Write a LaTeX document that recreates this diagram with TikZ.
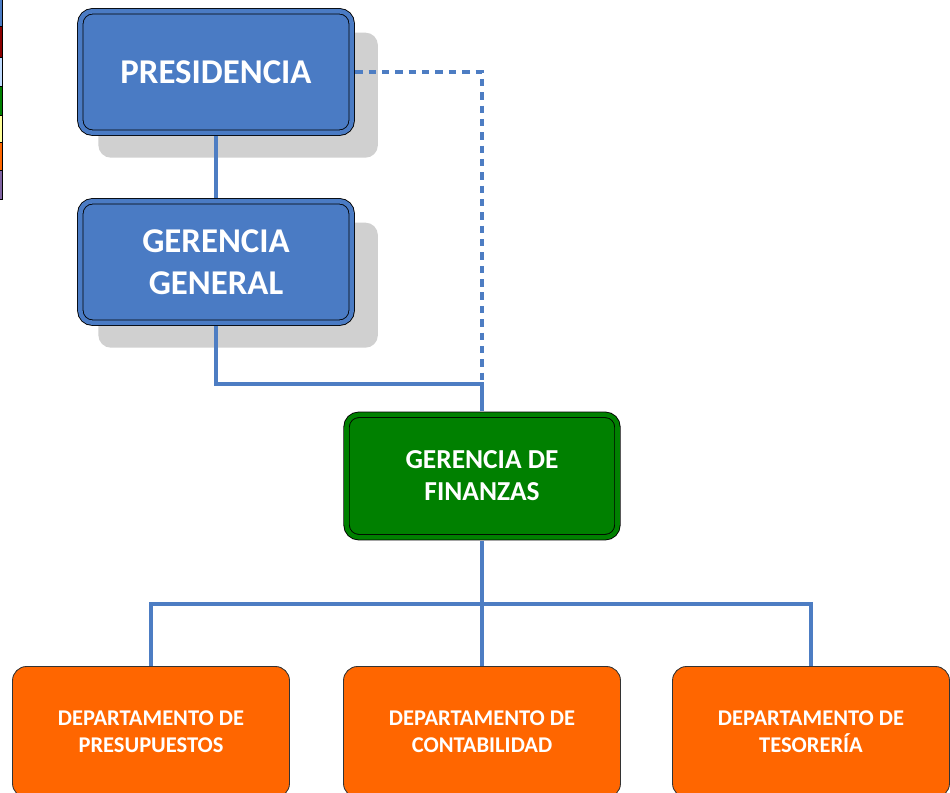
\documentclass[tikz,border=0pt]{standalone}
\usepackage{fontspec}
\setmainfont{Carlito}
\usepackage{tikz}
\usetikzlibrary{shadows,calc}
\definecolor{jefe}{HTML}{4A7BC4}
\definecolor{enlace}{HTML}{4D7DC3}
\definecolor{finanzas}{HTML}{008000}
\definecolor{depto}{HTML}{FF6600}
\definecolor{sombra}{HTML}{D0D0D0}
\definecolor{leyrojo}{HTML}{8B0000}
\definecolor{leycielo}{HTML}{C0DCFF}
\definecolor{leyamarillo}{HTML}{FFFF99}
\definecolor{leymorado}{HTML}{8064A2}

\begin{document}
\begin{tikzpicture}[x=0.02cm,y=-0.02cm,
  jefebox/.style={rectangle,rounded corners=7pt,draw=black,line width=0.5pt,
    double=jefe,double distance=2.6pt,fill=jefe,text=white,align=center,
    minimum width=5.43cm,minimum height=2.43cm,
    font=\bfseries\fontsize{19.8}{24}\selectfont,
    drop shadow={shadow scale=1.03,shadow xshift=0.43cm,shadow yshift=-0.45cm,fill=sombra,opacity=1}},
  finbox/.style={rectangle,rounded corners=7pt,draw=black,line width=0.5pt,
    double=finanzas,double distance=2.6pt,fill=finanzas,text=white,align=center,
    minimum width=5.42cm,minimum height=2.45cm,
    font=\bfseries\fontsize{15.6}{18.2}\selectfont},
  deptobox/.style={rectangle,rounded corners=8pt,draw=black!80,line width=0.5pt,
    fill=depto,text=white,align=center,
    minimum width=5.54cm,minimum height=2.62cm,
    font=\bfseries\fontsize{12.8}{15.3}\selectfont},
  enlace/.style={draw=enlace,line width=2.8pt},
  punteado/.style={draw=enlace,line width=2.2pt,dash pattern=on 4.2pt off 3.4pt}]
\useasboundingbox (0,0) rectangle (950,793);

% leyenda cortada a la izquierda
\foreach \arriba/\abajo/\col in {-2/26/jefe,26/57/leyrojo,57/86/leycielo,86/115/finanzas,115/142/leyamarillo,142/170/depto,170/199/leymorado}
  \draw[fill=\col,line width=0.5pt] (-3,\arriba) rectangle (2.5,\abajo);

\node[jefebox] (pres) at (216,72) {PRESIDENCIA};
\node[jefebox] (gg) at (216,262) {GERENCIA\\GENERAL};
\node[finbox] (fin) at (482,476) {GERENCIA DE\\FINANZAS};

\node[deptobox] (presup) at (151,732) {DEPARTAMENTO DE\\PRESUPUESTOS};
\node[deptobox] (conta) at (482,732) {DEPARTAMENTO DE\\CONTABILIDAD};
\node[deptobox] (teso) at (811,732) {DEPARTAMENTO DE\\TESORERÍA};

\coordinate (junta) at (482,384);
\coordinate (bus) at (482,604);

\draw[enlace,shorten <=1.8pt,shorten >=1.8pt] (pres.south) -- (gg.north);
\draw[enlace,shorten <=1.8pt,shorten >=1.8pt] (gg.south) |- (junta) -- (fin.north);
\draw[punteado,shorten <=1.8pt] (pres.east) -| (junta);
\draw[enlace,shorten <=1.8pt] (fin.south) -- (bus);
\draw[enlace] (bus) -| (presup.north);
\draw[enlace] (bus) -| (teso.north);
\draw[enlace] (bus) -- (conta.north);
\end{tikzpicture}
\end{document}
